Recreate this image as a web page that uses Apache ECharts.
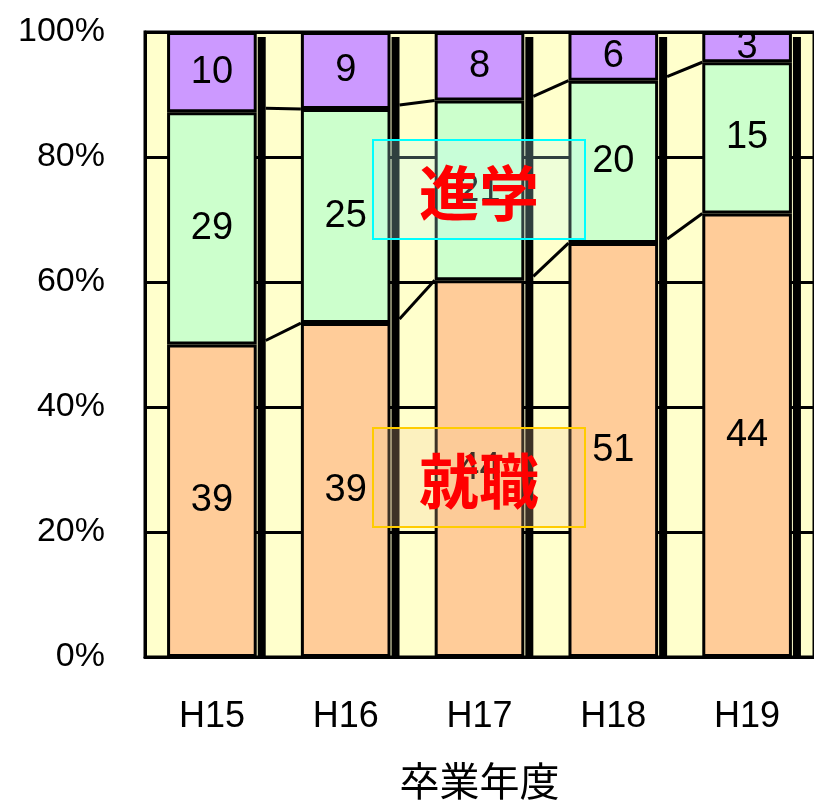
<!DOCTYPE html>
<html>
<head>
<meta charset="utf-8">
<script src="https://cdn.jsdelivr.net/npm/echarts@6/dist/echarts.min.js"></script>
<style>
  html, body { margin: 0; padding: 0; background: #fff; }
  #chart { width: 814px; height: 806px; }
</style>
</head>
<body>
<div id="chart"></div>
<script>
// 卒業年度ごとの進路（人数）
const years = ["H15", "H16", "H17", "H18", "H19"];
const shushoku = [39, 39, 44, 51, 44]; // 就職
const shingaku = [29, 25, 21, 20, 15]; // 進学
const sonota = [10, 9, 8, 6, 3];       // その他
const yTicks = [0, 20, 40, 60, 80, 100];

const totals = years.map((_, i) => shushoku[i] + shingaku[i] + sonota[i]);
const pct = (arr) => arr.map((v, i) => (v / totals[i]) * 100);
const pShu = pct(shushoku);
const pShin = pct(shingaku);
const pSon = pct(sonota);

const font = "'Liberation Sans', 'DejaVu Sans', sans-serif";
const jpFont = "'Noto Sans CJK JP', sans-serif";
const barRatio = 0.67;

function barSeries(name, values, raw, color) {
  return {
    name: name,
    type: "bar",
    stack: "total",
    barWidth: barRatio * 100 + "%",
    data: values,
    z: 3,
    itemStyle: { color: color, borderColor: "#000", borderWidth: 3 },
    label: {
      show: true,
      position: "inside",
      color: "#000",
      fontSize: 38,
      fontFamily: font,
      formatter: (p) => raw[p.dataIndex],
    },
  };
}

// 注記の枠（進学・就職）
function noteBox(text, left, top, fill, stroke) {
  return {
    type: "group", left: left, top: top, zlevel: 1,
    children: [
      { type: "rect", z: 100, shape: { x: 0, y: 0, width: 212, height: 99 },
        style: { fill: fill, stroke: stroke, lineWidth: 2 } },
      { type: "text", z: 101, x: 106, y: 53,
        style: { text: text, fill: "#FF0000", fontSize: 60, fontWeight: "bold",
          fontFamily: jpFont, align: "center", verticalAlign: "middle" } },
    ],
  };
}

const chart = echarts.init(document.getElementById("chart"));
chart.setOption({
  animation: false,
  grid: {
    left: 145, right: -3, top: 32, bottom: 148,
    show: true, backgroundColor: "#FFFFCC",
    borderColor: "#000", borderWidth: 3,
  },
  xAxis: {
    type: "category",
    data: years,
    name: "卒業年度",
    nameLocation: "middle",
    nameGap: 104,
    nameTextStyle: { fontSize: 40, color: "#000", fontFamily: jpFont },
    axisLine: { lineStyle: { color: "#000", width: 3 } },
    axisTick: { show: false },
    axisLabel: { fontSize: 36, color: "#000", fontFamily: font, margin: 42 },
  },
  yAxis: {
    type: "value",
    min: 0, max: 100, interval: 20,
    axisLine: { show: true, lineStyle: { color: "#000", width: 3 } },
    axisTick: { show: false },
    axisLabel: {
      fontSize: 34, color: "#000", fontFamily: font, margin: 40,
      formatter: (v) => (yTicks.includes(v) ? v + "%" : ""),
    },
    splitLine: { lineStyle: { color: "#000", width: 3 } },
  },
  series: [
    barSeries("就職", pShu, shushoku, "#FFCC99"),
    barSeries("進学", pShin, shingaku, "#CCFFCC"),
    barSeries("その他", pSon, sonota, "#CC99FF"),
    {
      // 奥行きの影と系列線
      type: "custom",
      z: 4,
      data: years.map((_, i) => i),
      renderItem: (params, api) => {
        const i = api.value(0);
        const band = api.size([1, 0])[0];
        const half = (band * barRatio) / 2;
        const c = api.coord([i, 0]);
        const top = api.coord([i, 100]);
        const children = [{
          type: "rect",
          shape: { x: c[0] + half + 1, y: top[1] + 5, width: 8, height: c[1] - top[1] - 5 },
          style: { fill: "#000" },
        }];
        if (i < years.length - 1) {
          const cum1 = [pShu[i], pShu[i] + pShin[i]];
          const cum2 = [pShu[i + 1], pShu[i + 1] + pShin[i + 1]];
          for (let k = 0; k < 2; k++) {
            const a = api.coord([i, cum1[k]]);
            const b = api.coord([i + 1, cum2[k]]);
            children.push({
              type: "line",
              shape: { x1: a[0] + half + 9, y1: a[1] - 4, x2: b[0] - half, y2: b[1] },
              style: { stroke: "#000", lineWidth: 3 },
            });
          }
        }
        return { type: "group", children: children };
      },
    },
  ],
  graphic: [
    noteBox("進学", 372, 139, "rgba(188,252,252,0.25)", "#00FFFF"),
    noteBox("就職", 372, 427, "rgba(244,200,152,0.25)", "#FFCC00"),
  ],
});
</script>
</body>
</html>
